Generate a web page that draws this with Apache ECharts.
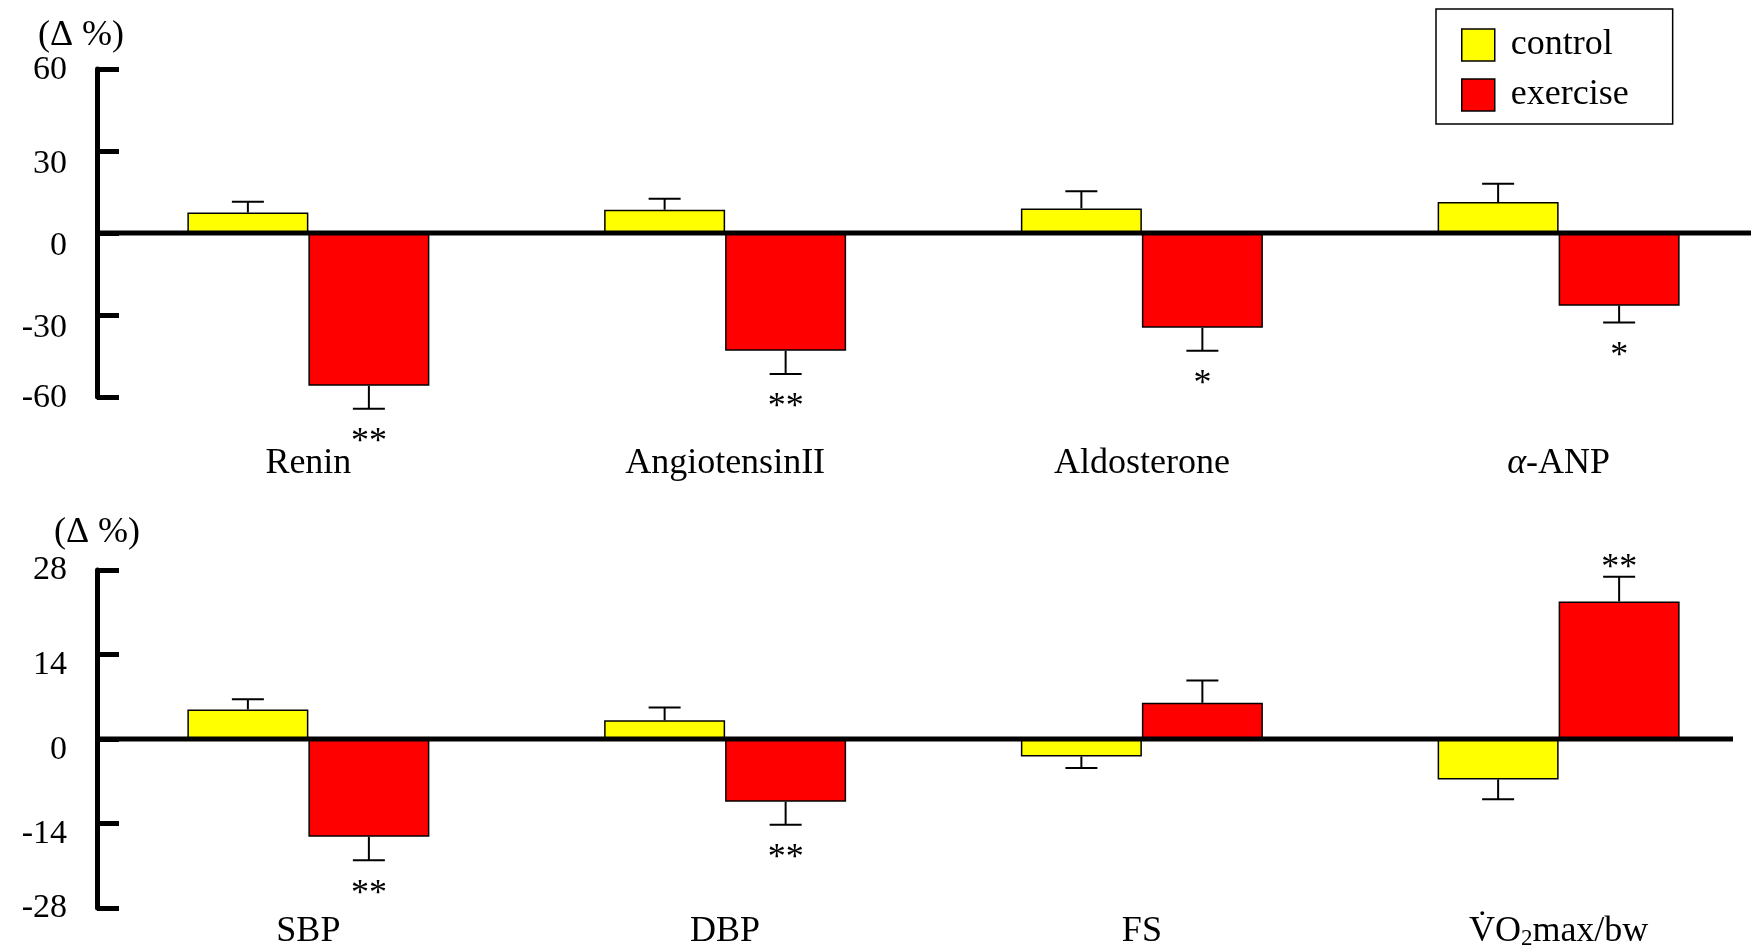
<!DOCTYPE html>
<html>
<head>
<meta charset="utf-8">
<script src="https://cdn.jsdelivr.net/npm/echarts@6/dist/echarts.min.js"></script>
<style>
html,body{margin:0;padding:0;background:#fff;overflow:hidden;}
#c{width:1770px;height:952px;}
</style>
</head>
<body>
<div id="c"></div>
<script>
// ---- data (Δ %) ----
const seriesNames = ['control', 'exercise'];

const topCategories = ['Renin', 'AngiotensinII', 'Aldosterone', 'α-ANP'];
const topTicks = [-60, -30, 0, 30, 60];
const topControl = [7.5, 8.5, 9.0, 11.3];
const topControlSE = [3.9, 4.0, 6.3, 6.7];
const topExercise = [-55.9, -43.1, -34.7, -26.6];
const topExerciseSE = [8.4, 8.5, 8.4, 6.1];
const topControlSig = ['', '', '', ''];
const topExerciseSig = ['**', '**', '*', '*'];

const bottomCategories = ['SBP', 'DBP', 'FS', 'V̇O2max/bw'];
const bottomTicks = [-28, -14, 0, 14, 28];
const bottomControl = [4.9, 3.1, -2.9, -6.7];
const bottomControlSE = [1.7, 2.1, 1.9, 3.3];
const bottomExercise = [-16.2, -10.4, 6.0, 22.8];
const bottomExerciseSE = [3.9, 3.8, 3.7, 4.1];
const bottomControlSig = ['', '', '', ''];
const bottomExerciseSig = ['**', '**', '', '**'];

// ---- styles ----
const FONT = '"Liberation Serif", "Times New Roman", serif';
const BAR_W = 121;
const CAP_W = 32;
const YELLOW = '#ffff00';
const RED = '#ff0000';
const ZERO_END = [null, 1733];

function errData(vals, ses) {
  return vals.map((v, i) => [i, v, ses[i]]);
}

function errRender(side, sigs) {
  return function (params, api) {
    const idx = api.value(0), v = api.value(1), se = api.value(2);
    const dir = v >= 0 ? 1 : -1;
    const base = api.coord([idx, v]);
    const end = api.coord([idx, v + dir * se]);
    const x = base[0] + side * BAR_W / 2;
    const children = [
      { type: 'line', shape: { x1: x, y1: base[1], x2: x, y2: end[1] }, style: { stroke: '#000', lineWidth: 2 } },
      { type: 'line', shape: { x1: x - CAP_W / 2, y1: end[1], x2: x + CAP_W / 2, y2: end[1] }, style: { stroke: '#000', lineWidth: 2 } }
    ];
    const s = sigs[params.dataIndex];
    if (s) {
      children.push({
        type: 'text', x: x, y: dir < 0 ? end[1] + 34 : end[1] - 8,
        style: { text: s, fill: '#000', font: '36px ' + FONT, align: 'center', verticalAlign: 'middle' }
      });
    }
    return { type: 'group', children: children };
  };
}

function zeroRender(gridIdx) {
  return function (params, api) {
    const cs = params.coordSys;
    const y = api.coord([0, 0])[1];
    const xEnd = ZERO_END[gridIdx] != null ? ZERO_END[gridIdx] : cs.x + cs.width;
    return { type: 'line', shape: { x1: cs.x, y1: y, x2: xEnd, y2: y }, style: { stroke: '#000', lineWidth: 5 } };
  };
}

function catFormatter(v) {
  const m = v.match(/^(.*O)2(.*)$/);
  if (m) return '{n|' + m[1] + '}{s|2}{n|' + m[2] + '}';
  if (v.indexOf('α') === 0) return '{i|α}{n|' + v.slice(1) + '}';
  return '{n|' + v + '}';
}
const catRich = {
  n: { fontFamily: FONT, fontSize: 36, color: '#000', verticalAlign: 'bottom' },
  i: { fontFamily: FONT, fontSize: 36, color: '#000', fontStyle: 'italic', verticalAlign: 'bottom' },
  s: { fontFamily: FONT, fontSize: 23, color: '#000', verticalAlign: 'bottom' }
};

function makeX(gridIndex, cats, margin) {
  return {
    type: 'category', gridIndex: gridIndex, data: cats,
    axisLine: { show: false }, axisTick: { show: false }, splitLine: { show: false },
    axisLabel: { margin: margin, formatter: catFormatter, rich: catRich, interval: 0 }
  };
}
function makeY(gridIndex, ticks, nameGap, namePad, endLH, midLH) {
  const tokenBase = { fontFamily: FONT, fontSize: 34, color: '#000' };
  return {
    type: 'value', gridIndex: gridIndex,
    min: ticks[0], max: ticks[ticks.length - 1], interval: ticks[1] - ticks[0],
    offset: 3,
    name: '(Δ %)', nameLocation: 'end', nameGap: nameGap,
    nameTextStyle: { fontFamily: FONT, fontSize: 36, color: '#000', align: 'center', verticalAlign: 'middle', padding: namePad },
    axisLine: { show: true, onZero: false, lineStyle: { color: '#000', width: 5 } },
    axisTick: { show: true, inside: true, length: 22, lineStyle: { color: '#000', width: 5 } },
    splitLine: { show: false },
    axisLabel: {
      margin: 30, verticalAlign: 'top',
      rich: { e: Object.assign({ lineHeight: endLH }, tokenBase), m: Object.assign({ lineHeight: midLH }, tokenBase) },
      formatter: v => {
        const k = ticks.indexOf(v);
        if (k < 0) return '';
        return (k === 0 || k === ticks.length - 1 ? '{e|' : '{m|') + v + '}';
      }
    }
  };
}

function barSeries(name, gridIdx, data, color) {
  return {
    name: name, type: 'bar', xAxisIndex: gridIdx, yAxisIndex: gridIdx, data: data,
    barWidth: BAR_W, barGap: '0%',
    itemStyle: { color: color, borderColor: '#000', borderWidth: 1.5 },
    z: 2
  };
}
function errSeries(gridIdx, vals, ses, side, sigs) {
  return {
    type: 'custom', xAxisIndex: gridIdx, yAxisIndex: gridIdx, clip: false, silent: true, z: 3,
    data: errData(vals, ses), renderItem: errRender(side, sigs)
  };
}
function zeroSeries(gridIdx) {
  return {
    type: 'custom', xAxisIndex: gridIdx, yAxisIndex: gridIdx, clip: false, silent: true, z: 4,
    data: [[0, 0]], renderItem: zeroRender(gridIdx)
  };
}

const chart = echarts.init(document.getElementById('c'), null, { renderer: 'canvas', devicePixelRatio: 1 });
chart.setOption({
  animation: false,
  backgroundColor: '#fff',
  grid: [
    { left: 100, width: 1667, top: 69, height: 328, containLabel: false },
    { left: 100, width: 1667, top: 570, height: 338, containLabel: false }
  ],
  legend: {
    data: seriesNames, orient: 'vertical', left: 1436, top: 9,
    icon: 'rect', itemWidth: 33, itemHeight: 32, itemGap: 14,
    padding: [18, 44, 11, 25], borderColor: '#000', borderWidth: 1.5, borderRadius: 0,
    textStyle: { fontFamily: FONT, fontSize: 36, lineHeight: 32, color: '#000', padding: [0, 0, 0, 11] },
    itemStyle: { borderColor: '#000', borderWidth: 1.5 }
  },
  xAxis: [makeX(0, topCategories, 49), makeX(1, bottomCategories, 6)],
  yAxis: [makeY(0, topTicks, 32, [0, 32, 0, 0], 2, 26), makeY(1, bottomTicks, 37, [0, 0, 0, 0], 1, 22)],
  series: [
    barSeries(seriesNames[0], 0, topControl, YELLOW),
    barSeries(seriesNames[1], 0, topExercise, RED),
    errSeries(0, topControl, topControlSE, -1, topControlSig),
    errSeries(0, topExercise, topExerciseSE, 1, topExerciseSig),
    zeroSeries(0),
    barSeries(seriesNames[0], 1, bottomControl, YELLOW),
    barSeries(seriesNames[1], 1, bottomExercise, RED),
    errSeries(1, bottomControl, bottomControlSE, -1, bottomControlSig),
    errSeries(1, bottomExercise, bottomExerciseSE, 1, bottomExerciseSig),
    zeroSeries(1)
  ]
});
</script>
</body>
</html>
